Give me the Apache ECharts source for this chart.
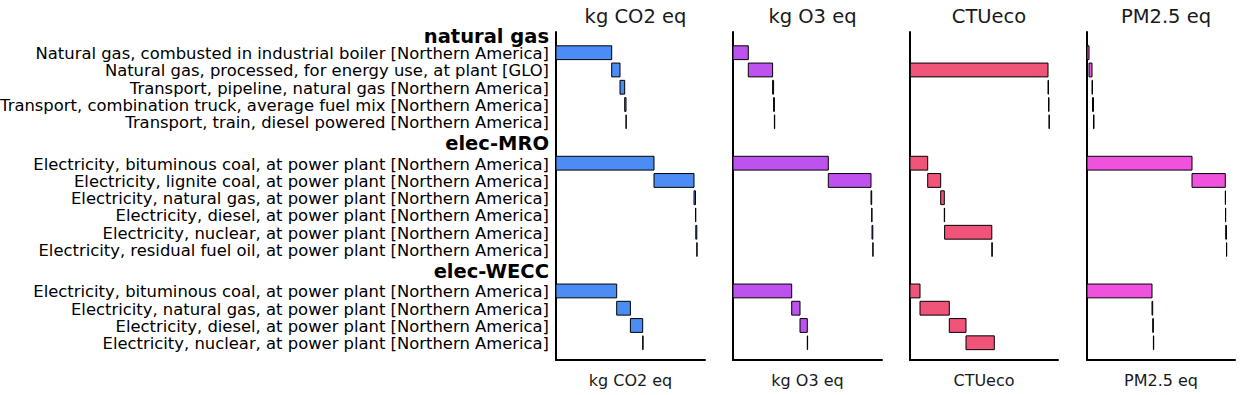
<!DOCTYPE html>
<html><head><meta charset="utf-8">
<script src="https://cdn.jsdelivr.net/npm/echarts@6/dist/echarts.min.js"></script>
<style>html,body{margin:0;padding:0;background:#fff}#c{width:1246px;height:395px}</style>
</head><body><div id="c"></div>
<script>
// ---- data ----
const groupNames = ['natural gas', 'elec-MRO', 'elec-WECC'];
const naturalGasLabels = [
  'Natural gas, combusted in industrial boiler [Northern America]',
  'Natural gas, processed, for energy use, at plant [GLO]',
  'Transport, pipeline, natural gas [Northern America]',
  'Transport, combination truck, average fuel mix [Northern America]',
  'Transport, train, diesel powered [Northern America]'
];
const elecMroLabels = [
  'Electricity, bituminous coal, at power plant [Northern America]',
  'Electricity, lignite coal, at power plant [Northern America]',
  'Electricity, natural gas, at power plant [Northern America]',
  'Electricity, diesel, at power plant [Northern America]',
  'Electricity, nuclear, at power plant [Northern America]',
  'Electricity, residual fuel oil, at power plant [Northern America]'
];
const elecWeccLabels = [
  'Electricity, bituminous coal, at power plant [Northern America]',
  'Electricity, natural gas, at power plant [Northern America]',
  'Electricity, diesel, at power plant [Northern America]',
  'Electricity, nuclear, at power plant [Northern America]'
];
const units = ['kg CO2 eq', 'kg O3 eq', 'CTUeco', 'PM2.5 eq'];
// contributions (relative units, same scale as axisMax)
const co2Values  = [55.7, 8.3, 4.7, 1.3, 0.2,   98, 40, 1.5, 0.3, 1.0, 0.3,   60.7, 13.7, 12.3, 0.4];
const o3Values   = [15.3, 24.3, 1.0, 0.8, 0.3,  95.3, 42.7, 0.7, 0.3, 0.8, 0.3,  58.7, 8.3, 7.3, 0.3];
const ctuValues  = [0.3, 137.7, 0.5, 0.5, 0.3,  17.7, 13, 3.6, 0.3, 47.2, 0.5,  10, 29.3, 16.7, 28.3];
const pmValues   = [2, 3, 0.5, 1, 0.5,          105, 33.3, 0.2, 0.2, 0.8, 0.2,  65, 0.7, 0.7, 0.3];
const axisMax = [149, 149, 148, 148];

// ---- layout ----
const groupLabels = [naturalGasLabels, elecMroLabels, elecWeccLabels];
const panelValues = [co2Values, o3Values, ctuValues, pmValues];
const colors = ['#4c8cf5', '#be52ee', '#f05478', '#ef52dc'];
const ROW = 5, GAP = 12, BAR = 4;
const lefts = [556, 733, 910, 1087];
const widths = [149, 149, 148, 148];
const FONT = 'DejaVu Sans';

const labelMap = {};
const itemPos = [];
const itemGroup = [];
let last = null;
groupLabels.forEach((labels, g) => {
  const first = (last === null) ? 0 : last + GAP;
  const head = (last === null) ? first - 5 : first - GAP / 2;
  labelMap[head] = { text: groupNames[g], header: true };
  labels.forEach((t, i) => {
    const p = first + i * ROW;
    labelMap[p] = { text: t, header: false };
    itemPos.push(p); itemGroup.push(g);
    last = p;
  });
});

const grids = [], xAxes = [], yAxes = [], series = [], titles = [];
panelValues.forEach((vals, k) => {
  grids.push({ left: lefts[k], width: widths[k], top: 32, bottom: 35, containLabel: false, outerBoundsMode: 'none' });
  xAxes.push({
    type: 'value', gridIndex: k, min: 0, max: axisMax[k],
    axisLine: { show: true, onZero: false, lineStyle: { color: '#000', width: 2 } },
    axisTick: { show: false }, axisLabel: { show: false }, splitLine: { show: false },
    name: units[k], nameLocation: 'middle', nameGap: 12,
    nameTextStyle: { fontSize: 16, color: '#1a1a1a', fontFamily: FONT }
  });
  yAxes.push({
    type: 'value', gridIndex: k, inverse: true, min: -6, max: 89, interval: 1,
    axisLine: { show: true, onZero: false, lineStyle: { color: '#000', width: 2 } },
    axisTick: { show: false }, splitLine: { show: false },
    axisLabel: {
      show: k === 0, margin: 7, fontSize: 16.4, lineHeight: 16, color: '#000', fontFamily: FONT,
      padding: [2, 0, 0, 0],
      formatter: (v) => {
        const e = labelMap[Math.round(v)];
        if (!e) return '';
        return e.header ? '{h|' + e.text + '}' : e.text;
      },
      rich: { h: { fontSize: 19.5, lineHeight: 18, fontWeight: 'bold', color: '#000', fontFamily: FONT } }
    }
  });
  const data = [];
  let cum = 0, prevG = -1;
  vals.forEach((v, i) => {
    if (itemGroup[i] !== prevG) { cum = 0; prevG = itemGroup[i]; }
    data.push([cum, cum + v, itemPos[i]]);
    cum += v;
  });
  const color = colors[k];
  series.push({
    type: 'custom', xAxisIndex: k, yAxisIndex: k, data: data,
    encode: { x: [0, 1], y: 2 },
    renderItem: (params, api) => {
      const p0 = api.coord([api.value(0), api.value(2)]);
      const p1 = api.coord([api.value(1), api.value(2)]);
      const h = api.size([0, BAR])[1];
      return {
        type: 'rect',
        shape: { x: p0[0], y: p0[1] - h / 2, width: Math.max(p1[0] - p0[0], 0), height: h },
        style: { fill: color, stroke: '#000', lineWidth: 1 }
      };
    }
  });
  titles.push({
    text: units[k], left: lefts[k] + widths[k] / 2, top: 1, textAlign: 'center',
    textStyle: { fontSize: 19.5, fontWeight: 'normal', color: '#1a1a1a', fontFamily: FONT }
  });
});

const chart = echarts.init(document.getElementById('c'), null, { renderer: 'svg' });
chart.setOption({
  animation: false,
  backgroundColor: '#fff',
  textStyle: { fontFamily: FONT },
  title: titles,
  grid: grids, xAxis: xAxes, yAxis: yAxes, series: series
});
</script></body></html>
